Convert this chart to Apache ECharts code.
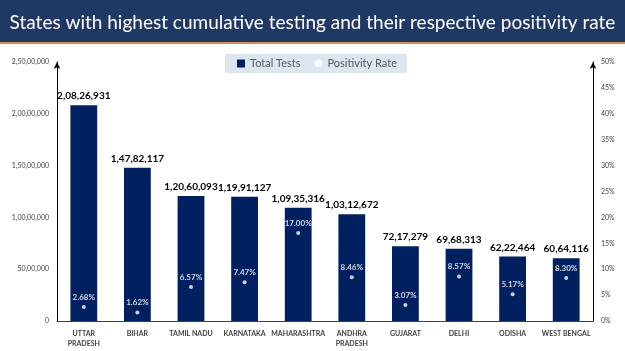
<!DOCTYPE html>
<html>
<head>
<meta charset="utf-8">
<script src="https://cdn.jsdelivr.net/npm/echarts@6/dist/echarts.min.js"></script>
<style>
  html, body { margin: 0; padding: 0; background: #fff; }
  #chart { width: 625px; height: 351px; }
</style>
</head>
<body>
<div id="chart"></div>
<script>
// states and their figures
const states = ['UTTAR\nPRADESH', 'BIHAR', 'TAMIL NADU', 'KARNATAKA', 'MAHARASHTRA',
  'ANDHRA\nPRADESH', 'GUJARAT', 'DELHI', 'ODISHA', 'WEST BENGAL']
const totalTests = [20826931, 14782117, 12060093, 11991127, 10935316,
  10312672, 7217279, 6968313, 6222464, 6064116]
const positivity = [2.68, 1.62, 6.57, 7.47, 17.00, 8.46, 3.07, 8.57, 5.17, 8.30]
const leftTicks = [0, 5000000, 10000000, 15000000, 20000000, 25000000]
const rightTicks = [0, 5, 10, 15, 20, 25, 30, 35, 40, 45, 50]

// indian digit grouping: 2,08,26,931
function inr(n) {
  const s = String(Math.round(n))
  if (s.length <= 3) return s
  const last3 = s.slice(-3)
  const rest = s.slice(0, -3).replace(/\B(?=(\d{2})+(?!\d))/g, ',')
  return rest + ',' + last3
}

const font = 'Lato, "Open Sans", sans-serif'
const chart = echarts.init(document.getElementById('chart'))

const option = {
  backgroundColor: '#fff',
  textStyle: { fontFamily: font },
  graphic: [
    { type: 'rect', shape: { x: 0, y: 0, width: 625, height: 42 }, style: { fill: '#203864' }, z: -1 },
    { type: 'rect', shape: { x: 0, y: 42, width: 625, height: 2 }, style: { fill: '#e08a4a' }, z: -1 }
  ],
  title: {
    text: 'States with highest cumulative testing and their respective positivity rate',
    left: 'center',
    top: 8,
    textStyle: { color: '#fff', fontSize: 19, fontWeight: 'normal', fontFamily: font }
  },
  legend: {
    top: 54,
    left: 225,
    backgroundColor: '#dce6f1',
    padding: [4, 10, 4, 12],
    itemWidth: 8,
    itemHeight: 8,
    itemGap: 14,
    textStyle: { color: '#595959', fontSize: 11, fontFamily: font },
    data: [
      { name: 'Total Tests', icon: 'rect' },
      { name: 'Positivity Rate', icon: 'circle' }
    ]
  },
  grid: { left: 57, right: 32, top: 62, bottom: 30 },
  xAxis: {
    type: 'category',
    data: states,
    axisTick: { show: false },
    axisLine: { lineStyle: { color: '#404040', width: 1 } },
    axisLabel: {
      interval: 0,
      fontSize: 7,
      fontWeight: 'bold',
      color: '#404040',
      lineHeight: 10,
      margin: 8
    }
  },
  yAxis: [
    {
      type: 'value',
      min: leftTicks[0],
      max: leftTicks[leftTicks.length - 1],
      interval: leftTicks[1] - leftTicks[0],
      splitLine: { show: false },
      axisTick: { show: false },
      axisLine: { show: true, symbol: ['none', 'arrow'], symbolSize: [5, 7], lineStyle: { color: '#000', width: 1 } },
      axisLabel: { fontSize: 7, color: '#404040', margin: 8, formatter: v => inr(v) }
    },
    {
      type: 'value',
      min: rightTicks[0],
      max: rightTicks[rightTicks.length - 1],
      interval: rightTicks[1] - rightTicks[0],
      splitLine: { show: false },
      axisTick: { show: false },
      axisLine: { show: true, symbol: ['none', 'arrow'], symbolSize: [5, 7], lineStyle: { color: '#000', width: 1 } },
      axisLabel: { fontSize: 7, color: '#404040', margin: 8, formatter: v => v + '%' }
    }
  ],
  series: [
    {
      name: 'Total Tests',
      type: 'bar',
      data: totalTests,
      barWidth: '50%',
      itemStyle: { color: '#002060' },
      label: {
        show: true,
        position: 'top',
        distance: 4,
        fontSize: 10,
        fontWeight: 'bold',
        color: '#000',
        formatter: p => inr(p.value)
      }
    },
    {
      name: 'Positivity Rate',
      type: 'scatter',
      yAxisIndex: 1,
      data: positivity,
      symbolSize: 4,
      itemStyle: { color: '#fff' },
      label: {
        show: true,
        position: 'top',
        distance: 4,
        fontSize: 8,
        fontWeight: 'bold',
        color: '#fff',
        formatter: p => p.value.toFixed(2) + '%'
      }
    }
  ]
}

chart.setOption(option)
</script>
</body>
</html>
